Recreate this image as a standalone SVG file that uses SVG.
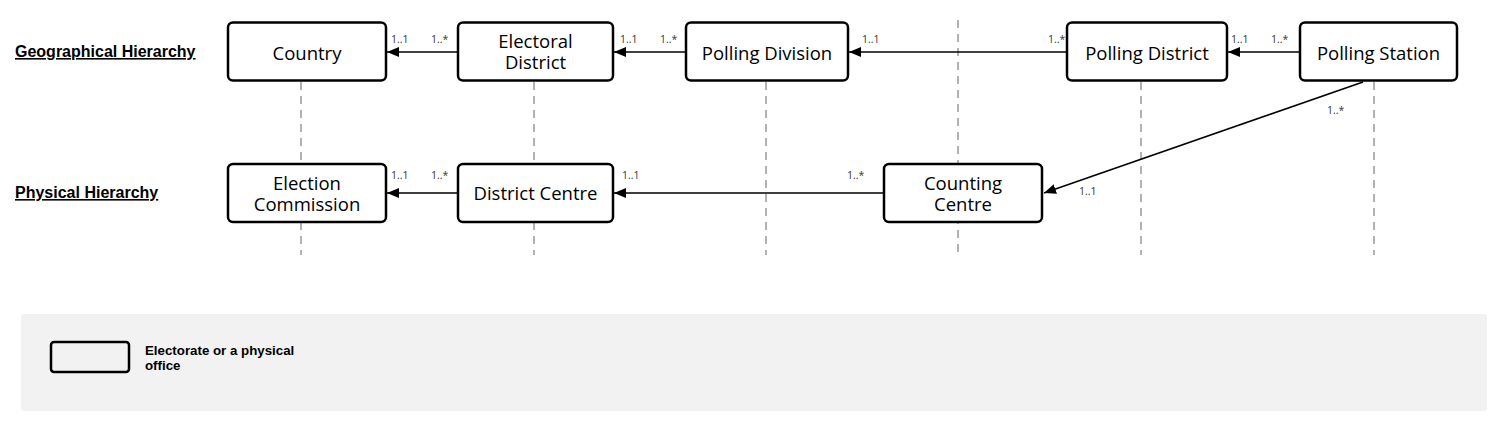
<svg xmlns="http://www.w3.org/2000/svg" width="1505" height="428" viewBox="0 0 1505 428">
<style>
.node rect{fill:#fff;stroke:#000;stroke-width:2.5}
.nt{font-family:"Open Sans","Noto Sans",sans-serif;font-size:18.5px;fill:#000;text-anchor:middle}
.m{font-family:"Open Sans","Noto Sans",sans-serif;font-size:10.5px;fill:#333}
.hdr{font-family:"Liberation Sans",Arial,sans-serif;font-size:16px;font-weight:bold;text-decoration:underline;fill:#000}
.guide{stroke:#999;stroke-width:1.5;stroke-dasharray:8 6;fill:none}
.edge{stroke:#000;stroke-width:1.5;fill:none;marker-end:url(#ah)}
.leg{font-family:"Liberation Sans",Arial,sans-serif;font-size:13.3px;font-weight:bold;fill:#000}
</style>
<defs>
<marker id="ah" viewBox="0 0 12 10" refX="12" refY="5" markerWidth="12" markerHeight="10" markerUnits="userSpaceOnUse" orient="auto">
<path d="M0,0 L12,5 L0,10 Z" fill="#000"/>
</marker>
</defs>
<rect width="1505" height="428" fill="#fff"/>
<g id="guides">
<line class="guide" x1="301" y1="82" x2="301" y2="255"/>
<line class="guide" x1="534" y1="82" x2="534" y2="255"/>
<line class="guide" x1="766" y1="82" x2="766" y2="255"/>
<line class="guide" x1="958" y1="20" x2="958" y2="255"/>
<line class="guide" x1="1141" y1="82" x2="1141" y2="255"/>
<line class="guide" x1="1374" y1="82" x2="1374" y2="255"/>
</g>
<text class="hdr" x="15" y="57">Geographical Hierarchy</text>
<text class="hdr" x="15" y="198">Physical Hierarchy</text>
<g id="connectors">
<line class="edge" x1="458" y1="52" x2="387" y2="52"/>
<line class="edge" x1="686" y1="52" x2="614" y2="52"/>
<line class="edge" x1="1067" y1="52" x2="849" y2="52"/>
<line class="edge" x1="1300" y1="52" x2="1228" y2="52"/>
<line class="edge" x1="1363" y1="82" x2="1044" y2="193"/>
<line class="edge" x1="458" y1="193" x2="387" y2="193"/>
<line class="edge" x1="884" y1="193" x2="614" y2="193"/>
<text class="m" x="391" y="43">1..1</text>
<text class="m" x="431" y="43">1..*</text>
<text class="m" x="620" y="43">1..1</text>
<text class="m" x="660" y="43">1..*</text>
<text class="m" x="862" y="43">1..1</text>
<text class="m" x="1048" y="43">1..*</text>
<text class="m" x="1231" y="43">1..1</text>
<text class="m" x="1271" y="43">1..*</text>
<text class="m" x="1327" y="114">1..*</text>
<text class="m" x="1079" y="195">1..1</text>
<text class="m" x="391" y="179">1..1</text>
<text class="m" x="431" y="179">1..*</text>
<text class="m" x="622" y="179">1..1</text>
<text class="m" x="847" y="179">1..*</text>
</g>
<g id="country" class="node"><rect x="228" y="22.5" width="158" height="58" rx="5"/><text class="nt" x="307" y="59.5">Country</text></g>
<g id="electoral-district" class="node"><rect x="458" y="22.5" width="155" height="58" rx="5"/><text class="nt"><tspan x="535.5" y="48.3">Electoral</tspan><tspan x="535.5" y="69.3">District</tspan></text></g>
<g id="polling-division" class="node"><rect x="686" y="22.5" width="162" height="58" rx="5"/><text class="nt" x="767" y="59.5">Polling Division</text></g>
<g id="polling-district" class="node"><rect x="1067" y="22.5" width="160" height="58" rx="5"/><text class="nt" x="1147" y="59.5">Polling District</text></g>
<g id="polling-station" class="node"><rect x="1300" y="22.5" width="157" height="58" rx="5"/><text class="nt" x="1378.5" y="59.5">Polling Station</text></g>
<g id="election-commission" class="node"><rect x="228" y="164" width="158" height="58" rx="5"/><text class="nt"><tspan x="307" y="189.8">Election</tspan><tspan x="307" y="210.8">Commission</tspan></text></g>
<g id="district-centre" class="node"><rect x="458" y="164" width="155" height="58" rx="5"/><text class="nt" x="535.5" y="200">District Centre</text></g>
<g id="counting-centre" class="node"><rect x="884" y="164" width="158" height="58" rx="5"/><text class="nt"><tspan x="963" y="189.8">Counting</tspan><tspan x="963" y="210.8">Centre</tspan></text></g>
<g id="legend">
<rect x="21" y="314" width="1466" height="97" rx="3" fill="#f2f2f2"/>
<rect x="51" y="342" width="78" height="30" rx="3" fill="none" stroke="#000" stroke-width="2.5"/>
<text class="leg"><tspan x="145" y="354.5">Electorate or a physical</tspan><tspan x="145" y="369.5">office</tspan></text>
</g>
</svg>
